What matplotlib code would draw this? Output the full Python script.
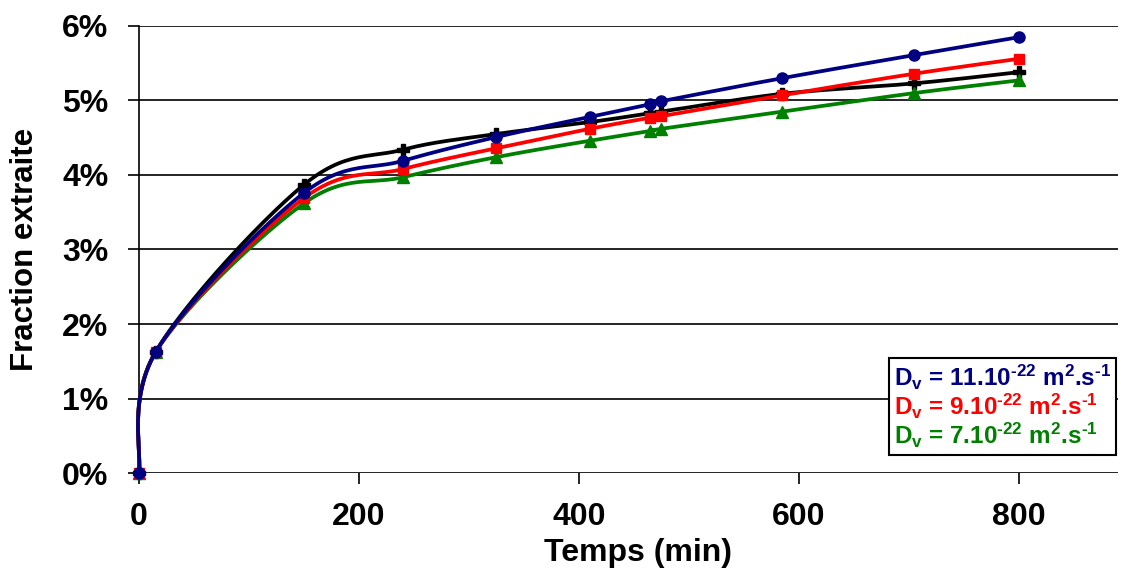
import numpy as np
import matplotlib
matplotlib.use("Agg")
from matplotlib import pyplot as plt
from matplotlib.ticker import FuncFormatter

plt.rcParams['font.family'] = ['Liberation Sans', 'DejaVu Sans']
plt.rcParams['font.weight'] = 'bold'
plt.rcParams['mathtext.fontset'] = 'custom'
plt.rcParams['mathtext.rm'] = 'Liberation Sans:bold'
plt.rcParams['mathtext.default'] = 'rm'

# temps (min)
t = [0, 15, 150, 240, 325, 410, 465, 475, 585, 705, 800]

# fraction extraite (%)
f_exp = [0, 1.62, 3.87, 4.34, 4.55, 4.71, 4.83, 4.85, 5.09, 5.23, 5.38]
f_11 = [0, 1.62, 3.76, 4.19, 4.51, 4.78, 4.95, 4.99, 5.30, 5.61, 5.85]
f_9 = [0, 1.62, 3.69, 4.08, 4.36, 4.62, 4.77, 4.79, 5.07, 5.36, 5.56]
f_7 = [0, 1.62, 3.62, 3.97, 4.24, 4.46, 4.59, 4.62, 4.85, 5.10, 5.27]

labels = ["D$_\\mathrm{v}$ = 11.10$^\\mathrm{\u201022}$ m$^\\mathrm{2}$.s$^\\mathrm{\u20101}$",
          "D$_\\mathrm{v}$ = 9.10$^\\mathrm{\u201022}$ m$^\\mathrm{2}$.s$^\\mathrm{\u20101}$",
          "D$_\\mathrm{v}$ = 7.10$^\\mathrm{\u201022}$ m$^\\mathrm{2}$.s$^\\mathrm{\u20101}$"]


def smooth(x, y, n=30):
    # courbe lissee type Excel (Catmull-Rom -> Bezier)
    p = np.column_stack([x, y]).astype(float)
    p = np.vstack([p[0], p, p[-1]])
    s = np.linspace(0, 1, n)[:, None]
    out = []
    for i in range(1, len(p) - 2):
        a, b = p[i], p[i + 1]
        c1 = a + (p[i + 1] - p[i - 1]) / 6
        c2 = b - (p[i + 2] - p[i]) / 6
        seg = (1 - s)**3 * a + 3 * (1 - s)**2 * s * c1 + 3 * (1 - s) * s**2 * c2 + s**3 * b
        out.append(seg)
    out = np.vstack(out)
    return out[:, 0], out[:, 1]


fig = plt.figure(figsize=(11.21, 5.76), dpi=100)
ax = fig.add_axes([0.124, 0.1788, 0.8733, 0.7761])

series = [(f_exp, 'black', 'P', 8, None),
          (f_7, '#008000', '^', 8, labels[2]),
          (f_9, '#ff0000', 's', 7.2, labels[1]),
          (f_11, '#000080', 'o', 8, labels[0])]
handles = {}
for k, (f, c, m, ms, lab) in enumerate(series):
    xs, ys = smooth(t, f)
    ln, = ax.plot(xs, ys, color=c, lw=2.7, zorder=3 + k, clip_on=False)
    ax.plot(t, f, ls='none', marker=m, color=c, ms=ms, zorder=3 + k, clip_on=False)
    if lab:
        handles[lab] = ln

ax.set_xlim(0, 890)
ax.set_ylim(0, 6)
ax.set_xticks([0, 200, 400, 600, 800])
ax.set_yticks(range(0, 7))
ax.yaxis.set_major_formatter(FuncFormatter(lambda v, p: "%d%%" % v))
ax.grid(axis='y', color='black', lw=1.2)
ax.set_axisbelow(True)
for s in ['top', 'right', 'bottom']:
    ax.spines[s].set_visible(False)
ax.spines['left'].set_linewidth(1.2)
ax.tick_params(axis='both', labelsize=23, width=1.2, length=8, direction='out')
ax.tick_params(axis='y', pad=14)
ax.tick_params(axis='x', pad=13)
ax.set_xlabel("Temps (min)", fontsize=23, fontweight='bold')
ax.set_ylabel("Fraction extraite", fontsize=22.5, fontweight='bold')
ax.xaxis.set_label_coords(0.51, -0.145)
ax.yaxis.set_label_coords(-0.101, 0.5)

leg = ax.legend([handles[l] for l in labels], labels, loc='lower right',
                bbox_to_anchor=(0.998, 0.04), borderaxespad=0, handlelength=0,
                handletextpad=0, labelcolor='linecolor', fontsize=17.5,
                fancybox=False, framealpha=1, edgecolor='black',
                borderpad=0.2, labelspacing=0.0)
leg.get_frame().set_linewidth(1.5)
for h in leg.legend_handles:
    h.set_visible(False)
leg.set_zorder(10)

fig.savefig("out.png", dpi=100)
